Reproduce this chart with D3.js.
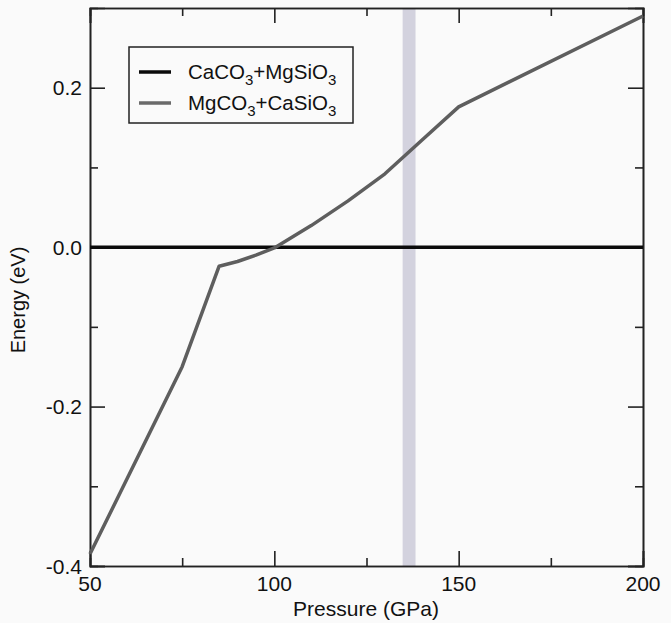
<!DOCTYPE html>
<html>
<head>
<meta charset="utf-8">
<script src="https://cdn.jsdelivr.net/npm/d3@7"></script>
<style>
  body { margin: 0; background: #fafafa; }
  svg { display: block; font-family: "Liberation Sans", Arial, sans-serif; }
</style>
</head>
<body>
<div id="chart"></div>
<script>
// data
const pressure = [50, 75, 85, 90, 95, 100, 110, 120, 130, 140, 150, 200];
const mgco3 = [-0.385, -0.15, -0.024, -0.018, -0.01, -0.001, 0.027, 0.058, 0.092, 0.134, 0.176, 0.29];
const caco3 = [0, 0];
const caco3Pressure = [50, 200];
const band = [134.8, 138.3];

const xTicks = [50, 100, 150, 200];
const xMinor = [75, 125, 175];
const yTicks = [-0.4, -0.2, 0.0, 0.2];
const yMinor = [-0.3, -0.1, 0.1];
const yTickLabels = ["-0.4", "-0.2", "0.0", "0.2"];

const seriesNames = ["CaCO3+MgSiO3", "MgCO3+CaSiO3"];

let width = 671, height = 623;

let svg = d3.select("#chart")
  .append("svg")
  .attr("width", width)
  .attr("height", height);

let xscale = d3.scaleLinear()
  .domain([50, 200])
  .range([90, 643]);

let yscale = d3.scaleLinear()
  .domain([-0.4, 0.3])
  .range([566, 8]);

// shaded vertical band
svg.append("rect")
  .attr("x", xscale(band[0]))
  .attr("y", yscale(0.3))
  .attr("width", xscale(band[1]) - xscale(band[0]))
  .attr("height", yscale(-0.4) - yscale(0.3))
  .style("fill", "#d3d2de");

// axes with inward ticks on all four sides
const major = 15, minor = 8;

let axBottom = svg.append("g").attr("transform", `translate(0,${yscale(-0.4)})`);
axBottom.call(d3.axisTop(xscale).tickValues(xTicks).tickSize(major).tickFormat(""));
axBottom.append("g").call(d3.axisTop(xscale).tickValues(xMinor).tickSize(minor).tickFormat(""));

let axTop = svg.append("g").attr("transform", `translate(0,${yscale(0.3)})`);
axTop.call(d3.axisBottom(xscale).tickValues(xTicks).tickSize(major).tickFormat(""));
axTop.append("g").call(d3.axisBottom(xscale).tickValues(xMinor).tickSize(minor).tickFormat(""));

let axLeft = svg.append("g").attr("transform", `translate(${xscale(50)},0)`);
axLeft.call(d3.axisRight(yscale).tickValues(yTicks).tickSize(major).tickFormat(""));
axLeft.append("g").call(d3.axisRight(yscale).tickValues(yMinor).tickSize(minor).tickFormat(""));

let axRight = svg.append("g").attr("transform", `translate(${xscale(200)},0)`);
axRight.call(d3.axisLeft(yscale).tickValues(yTicks).tickSize(major).tickFormat(""));
axRight.append("g").call(d3.axisLeft(yscale).tickValues(yMinor).tickSize(minor).tickFormat(""));

svg.selectAll(".domain").attr("stroke", "#222").attr("stroke-width", 1.6);
svg.selectAll(".tick line").attr("stroke", "#222").attr("stroke-width", 1.6);

// tick labels
svg.selectAll(".xlab")
  .data(xTicks)
  .enter()
  .append("text")
  .attr("x", d => xscale(d))
  .attr("y", 591)
  .attr("text-anchor", "middle")
  .attr("font-size", 21)
  .attr("fill", "#111")
  .text(d => d);

svg.selectAll(".ylab")
  .data(yTicks)
  .enter()
  .append("text")
  .attr("x", 82)
  .attr("y", d => yscale(d) + 7.5)
  .attr("text-anchor", "end")
  .attr("font-size", 21)
  .attr("fill", "#111")
  .text((d, i) => yTickLabels[i]);

svg.append("text")
  .attr("x", 366)
  .attr("y", 616)
  .attr("text-anchor", "middle")
  .attr("font-size", 21)
  .attr("fill", "#111")
  .text("Pressure (GPa)");

svg.append("text")
  .attr("transform", "translate(25,300) rotate(-90)")
  .attr("text-anchor", "middle")
  .attr("font-size", 20)
  .attr("fill", "#111")
  .text("Energy (eV)");

// lines
let line = d3.line()
  .x(d => xscale(d[0]))
  .y(d => yscale(d[1]));

svg.append("path")
  .datum(caco3Pressure.map((p, i) => [p, caco3[i]]))
  .attr("d", line)
  .attr("fill", "none")
  .attr("stroke", "#0a0a0a")
  .attr("stroke-width", 3.5);

svg.append("path")
  .datum(pressure.map((p, i) => [p, mgco3[i]]))
  .attr("d", line)
  .attr("fill", "none")
  .attr("stroke", "#5e5e5e")
  .attr("stroke-width", 3.5)
  .attr("stroke-linejoin", "round");

// legend
let legend = svg.append("g");
legend.append("rect")
  .attr("x", 129)
  .attr("y", 47)
  .attr("width", 224)
  .attr("height", 76)
  .attr("fill", "#fafafa")
  .attr("stroke", "#222")
  .attr("stroke-width", 1.5);

const legendColors = ["#0a0a0a", "#6a6a6a"];
const formulas = [["CaCO", "3", "+MgSiO", "3"], ["MgCO", "3", "+CaSiO", "3"]];

seriesNames.forEach((name, i) => {
  let y = 72 + i * 31;
  legend.append("line")
    .attr("x1", 139)
    .attr("x2", 171)
    .attr("y1", y)
    .attr("y2", y)
    .attr("stroke", legendColors[i])
    .attr("stroke-width", 3.5);

  let t = legend.append("text")
    .attr("x", 188)
    .attr("y", y + 7)
    .attr("font-size", 20.5)
    .attr("fill", "#111");
  formulas[i].forEach((part, j) => {
    let span = t.append("tspan").text(part);
    if (j % 2 === 1) {
      span.attr("font-size", 15).attr("dy", 6);
    } else if (j > 0) {
      span.attr("dy", -6);
    }
  });
});
</script>
</body>
</html>
